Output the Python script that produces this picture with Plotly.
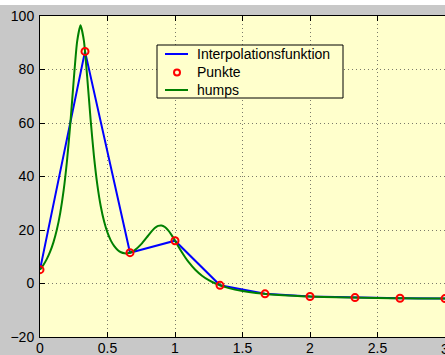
import plotly.graph_objects as go

# Stützstellen (x = 0, 1/3, ..., 3) und Funktionswerte
punkte_x = [0.0, 0.3333, 0.6667, 1.0, 1.3333, 1.6667, 2.0, 2.3333, 2.6667, 3.0]
punkte_y = [5.18, 86.77, 11.52, 16.0, -0.68, -3.87, -4.86, -5.28, -5.51, -5.64]

# humps, fein abgetastet
humps_x = [0.0, 0.025, 0.05, 0.075, 0.1, 0.125, 0.15, 0.175, 0.2, 0.225,
           0.25, 0.275, 0.3, 0.325, 0.35, 0.375, 0.4, 0.425, 0.45, 0.475,
           0.5, 0.525, 0.55, 0.575, 0.6, 0.625, 0.65, 0.675, 0.7, 0.75,
           0.8, 0.825, 0.85, 0.875, 0.9, 0.925, 0.95, 0.975, 1.0, 1.025,
           1.05, 1.075, 1.1, 1.15, 1.2, 1.25, 1.3, 1.4, 1.5, 1.6, 1.8,
           2.0, 2.2, 2.4, 2.6, 2.8, 3.0]
humps_y = [5.18, 6.92, 9.10, 11.88, 15.47, 20.18, 26.43, 34.79, 45.89, 60.02,
           76.16, 90.44, 96.5, 90.82, 76.92, 61.17, 47.45, 36.79, 28.89, 23.15,
           19.0, 16.03, 13.95, 12.55, 11.69, 11.30, 11.30, 11.67, 12.38, 14.71,
           17.85, 19.42, 20.73, 21.55, 21.70, 21.11, 19.84, 18.07, 16.0, 13.85,
           11.75, 9.80, 8.04, 5.12, 2.91, 1.25, -0.01, -1.73, -2.81, -3.53, -4.38,
           -4.86, -5.15, -5.34, -5.47, -5.57, -5.64]

x_ticks = [0, 0.5, 1, 1.5, 2, 2.5, 3]
x_ticktext = ["0", "0.5", "1", "1.5", "2", "2.5", "3"]
y_ticks = [-20, 0, 20, 40, 60, 80, 100]

legend_names = ["Interpolationsfunktion", "Punkte", "humps"]

BLUE, RED, GREEN = "#0000FF", "#FF0000", "#008000"
BG_AXES = "#FFFFCC"
BG_FIG = "#C8C8C8"
FONT = "Liberation Sans, Arial, sans-serif"

W, H = 445, 355
ML, MR, MT, MB = 40, 0, 16, 18
PW, PH = W - ML - MR, H - MT - MB


def px(xp):
    return (xp - ML) / PW


def py(yp):
    return 1 - (yp - MT) / PH


fig = go.Figure()
fig.add_trace(go.Scatter(x=punkte_x, y=punkte_y, mode="lines",
                         line=dict(color=BLUE, width=2),
                         name=legend_names[0], showlegend=False))
fig.add_trace(go.Scatter(x=humps_x, y=humps_y, mode="lines",
                         line=dict(color=GREEN, width=2, shape="spline",
                                   smoothing=0.6),
                         name=legend_names[2], showlegend=False))
fig.add_trace(go.Scatter(x=punkte_x, y=punkte_y, mode="markers",
                         marker=dict(symbol="circle-open", color=RED,
                                     size=7, line=dict(width=2, color=RED)),
                         name=legend_names[1], showlegend=False))

axis_common = dict(
    showline=True, linecolor="black", linewidth=1,
    ticks="inside", ticklen=5, tickcolor="black",
    showgrid=True, gridcolor="#7A7A6A", griddash="1px,3px", gridwidth=1,
    zeroline=False, automargin=False,
    tickfont=dict(family=FONT, size=14, color="black"),
)

# Legendenkasten mit Symbolen
lx0, lx1, ly0, ly1 = px(157), px(343), py(45), py(98)
shapes = [
    dict(type="rect", xref="paper", yref="paper",
         x0=-0.2, x1=1.1, y0=py(5), y1=1.2,
         fillcolor="white", line=dict(width=0), layer="above"),
    dict(type="rect", xref="paper", yref="paper",
         x0=lx0, x1=lx1, y0=ly1, y1=ly0,
         fillcolor=BG_AXES, line=dict(color="black", width=1)),
    dict(type="line", xref="paper", yref="paper",
         x0=px(165), x1=px(188), y0=py(54), y1=py(54),
         line=dict(color=BLUE, width=2)),
    dict(type="circle", xref="paper", yref="paper",
         x0=px(177 - 3), x1=px(177 + 3), y0=py(72.5 + 3), y1=py(72.5 - 3),
         line=dict(color=RED, width=2)),
    dict(type="line", xref="paper", yref="paper",
         x0=px(165), x1=px(188), y0=py(90), y1=py(90),
         line=dict(color=GREEN, width=2)),
]

annotations = [
    dict(xref="paper", yref="paper", x=px(195), y=py(72.3),
         xanchor="left", yanchor="middle", align="left", showarrow=False,
         text="<br>".join(legend_names),
         font=dict(family=FONT, size=14, color="black")),
    # letzte Achsenbeschriftung am rechten Rand
    dict(xref="x", yref="paper", x=x_ticks[-1], y=0, yanchor="top",
         xanchor="center", showarrow=False, yshift=-2,
         text=x_ticktext[-1], font=dict(family=FONT, size=14, color="black")),
]

fig.update_layout(
    width=W, height=H,
    margin=dict(l=ML, r=MR, t=MT, b=MB),
    paper_bgcolor=BG_FIG, plot_bgcolor=BG_AXES,
    showlegend=False,
    xaxis=dict(range=[0, 3], tickvals=x_ticks[:-1], ticktext=x_ticktext[:-1],
               mirror="ticks", ticklabelstandoff=-2, **axis_common),
    yaxis=dict(range=[-20, 100], tickvals=y_ticks, ticklabelstandoff=2,
               **axis_common),
    shapes=shapes,
    annotations=annotations,
)

fig.write_html("out.html")
